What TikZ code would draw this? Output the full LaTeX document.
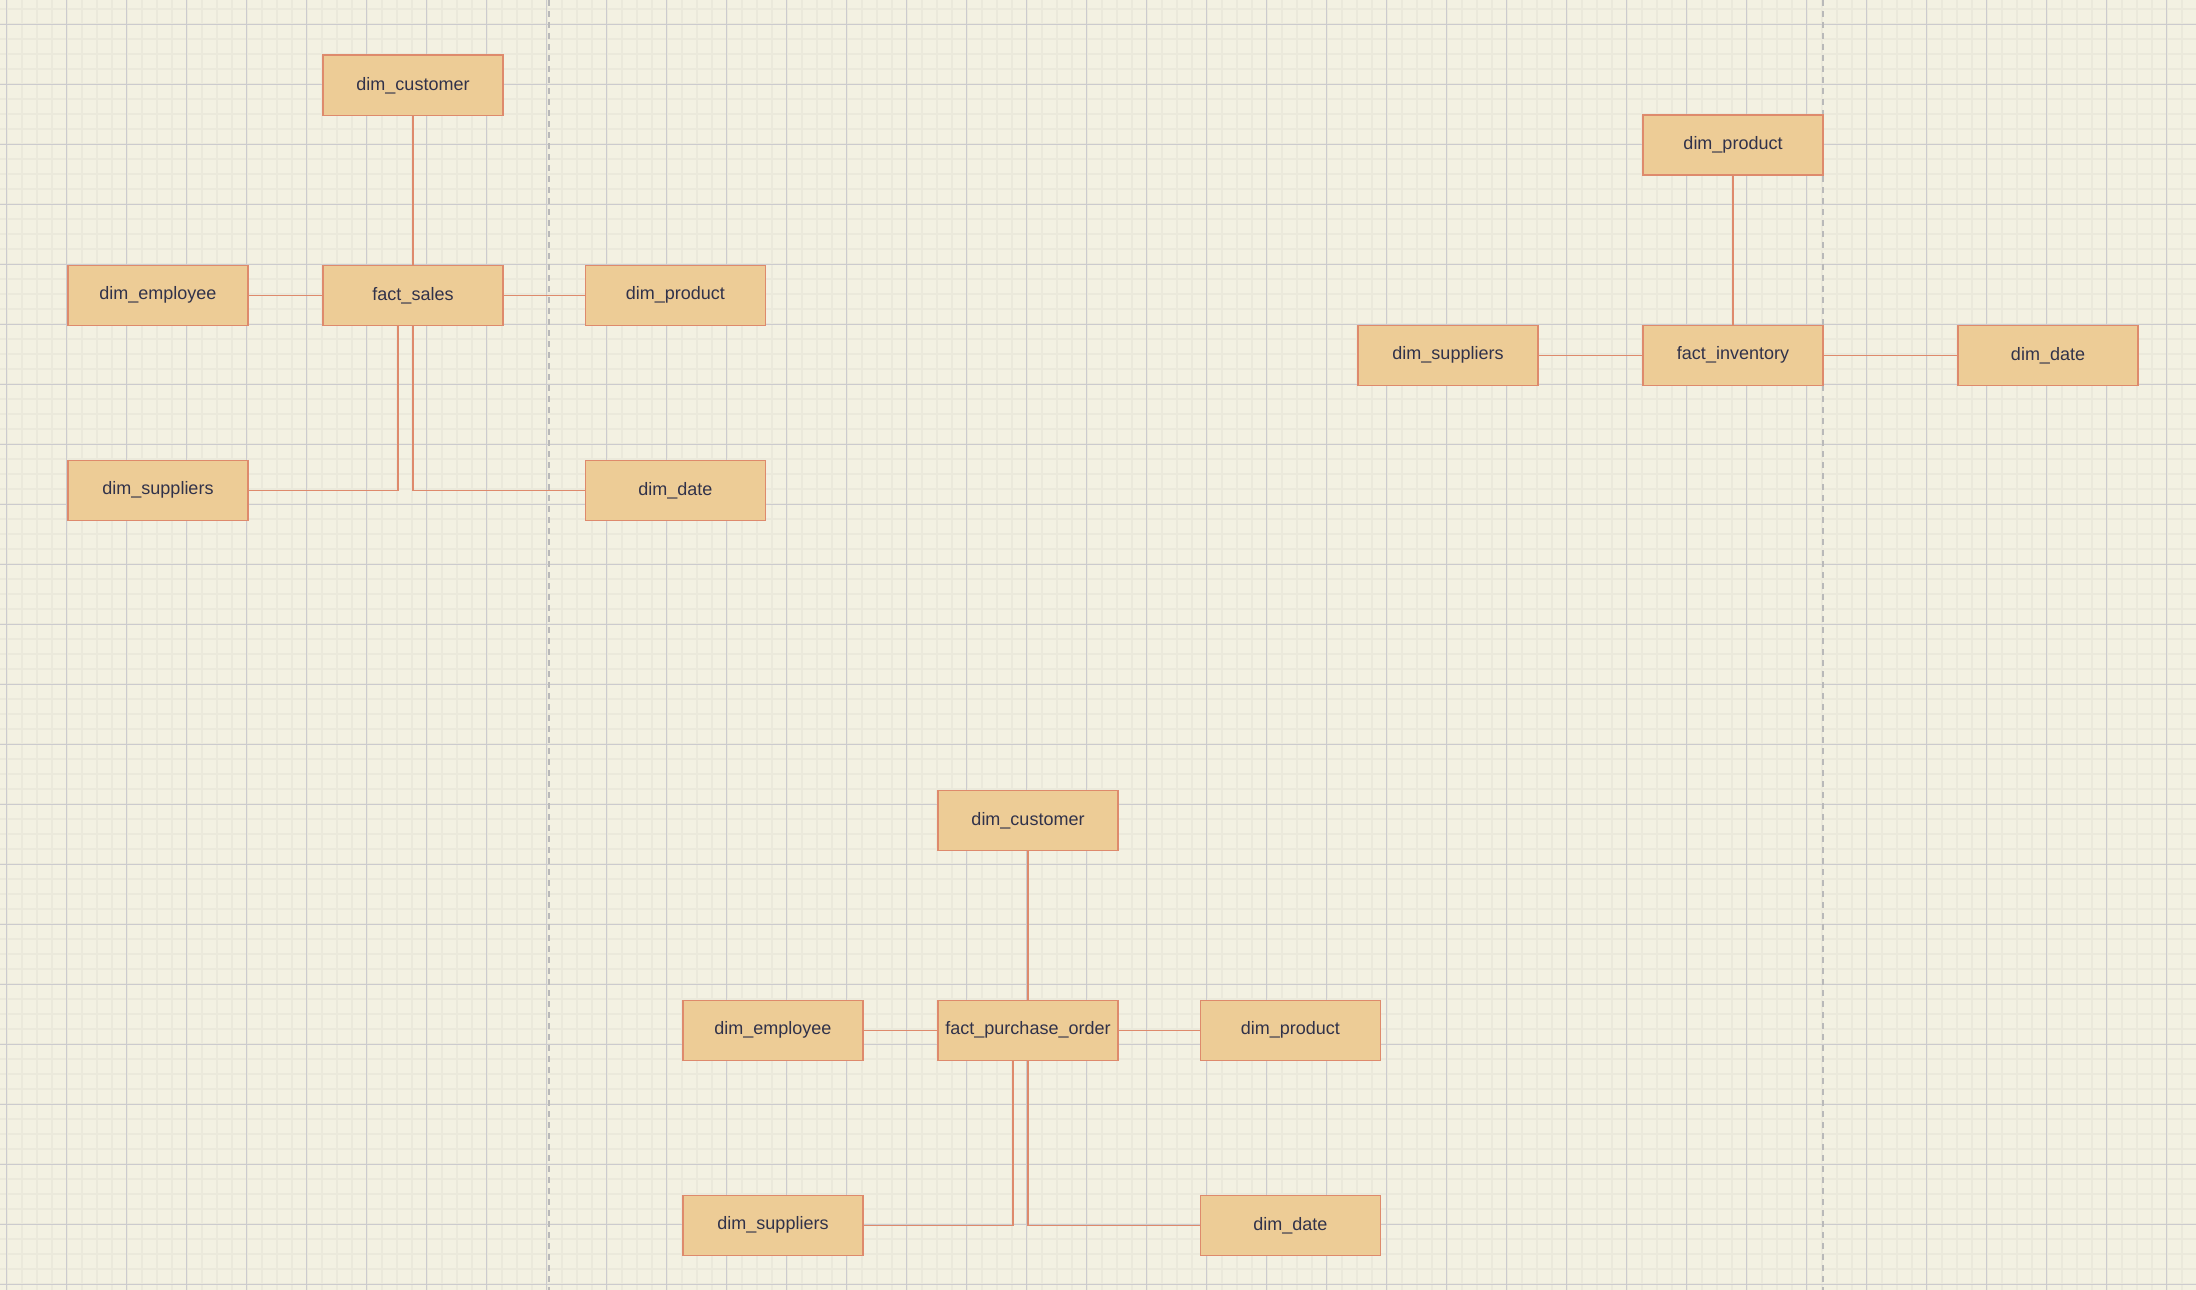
\documentclass[tikz,border=0pt]{standalone}
\usepackage{fontspec}
\setmainfont{Liberation Sans}
\usetikzlibrary{calc}

\definecolor{paper}{HTML}{F3F1E2}
\definecolor{gridminor}{HTML}{EBE9DB}
\definecolor{gridmajor}{HTML}{CCCBCE}
\definecolor{pagebreak}{HTML}{B9B9B9}
\definecolor{tablefill}{HTML}{EDCC96}
\definecolor{tableline}{HTML}{DE8A6C}
\definecolor{tabletext}{HTML}{31324A}

\tikzset{
  minorgrid/.style={draw=gridminor, line width=2pt},
  majorgrid/.style={draw=gridmajor, line width=1pt},
  pageline/.style={draw=pagebreak, line width=2pt, dash pattern=on 6pt off 5pt},
  table/.style={draw=tableline, fill=tablefill, line width=1.6pt,
    minimum width=180pt, minimum height=60pt, inner sep=0pt, outer sep=0pt,
    text=tabletext, font=\fontsize{18pt}{22pt}\selectfont},
  link/.style={draw=tableline, line width=1.4pt},
}

\begin{document}
\begin{tikzpicture}[x=1pt, y=-1pt]
  % canvas
  \fill[paper] (0,0) rectangle (2196,1290);
  \useasboundingbox (0,0) rectangle (2196,1290);

  % background grid
  \foreach \i in {0,...,146} {\draw[minorgrid] ({6.7+15*\i},0) -- ({6.7+15*\i},1290);}
  \foreach \j in {-1,...,84} {\draw[minorgrid] (0,{24.3+15*\j}) -- (2196,{24.3+15*\j});}
  \foreach \i in {0,...,36} {\draw[majorgrid] ({6.7+60*\i},0) -- ({6.7+60*\i},1290);}
  \foreach \j in {0,...,21} {\draw[majorgrid] (0,{24.3+60*\j}) -- (2196,{24.3+60*\j});}

  % page boundaries
  \coordinate (pbA top) at (548.5,0);
  \coordinate (pbA bot) at (548.5,1290);
  \coordinate (pbB top) at (1822.7,0);
  \coordinate (pbB bot) at (1822.7,1290);
  \draw[pageline] (pbA top) -- (pbA bot);
  \draw[pageline] (pbB top) -- (pbB bot);

  % sales star schema
  \node[table] (c1) at (413,85.3)   {dim\_customer};
  \node[table] (f1) at (413,295.3)  {fact\_sales};
  \node[table] (e1) at (157.8,295.3) {dim\_employee};
  \node[table] (p1) at (675.3,295.3) {dim\_product};
  \node[table] (s1) at (158,490.3)  {dim\_suppliers};
  \node[table] (d1) at (675.3,490.3) {dim\_date};

  \draw[link] (c1.south) -- (f1.north);
  \draw[link] (e1.east) -- (f1.west);
  \draw[link] (f1.east) -- (p1.west);
  \draw[link] ([xshift=-15pt]f1.south) |- (s1.east);
  \draw[link] (f1.south) |- (d1.west);

  % inventory star schema
  \node[table] (p2) at (1733,145.2) {dim\_product};
  \node[table] (f2) at (1733,355.3) {fact\_inventory};
  \node[table] (s2) at (1448,355.3) {dim\_suppliers};
  \node[table] (d2) at (2048,355.3) {dim\_date};

  \draw[link] (p2.south) -- (f2.north);
  \draw[link] (s2.east) -- (f2.west);
  \draw[link] (f2.east) -- (d2.west);

  % purchase order star schema
  \node[table] (c3) at (1028,820.3)   {dim\_customer};
  \node[table] (f3) at (1028,1030.3)  {fact\_purchase\_order};
  \node[table] (e3) at (772.8,1030.3) {dim\_employee};
  \node[table] (p3) at (1290.3,1030.3) {dim\_product};
  \node[table] (s3) at (773,1225.3)   {dim\_suppliers};
  \node[table] (d3) at (1290.3,1225.3) {dim\_date};

  \draw[link] (c3.south) -- (f3.north);
  \draw[link] (e3.east) -- (f3.west);
  \draw[link] (f3.east) -- (p3.west);
  \draw[link] ([xshift=-15pt]f3.south) |- (s3.east);
  \draw[link] (f3.south) |- (d3.west);
\end{tikzpicture}
\end{document}
